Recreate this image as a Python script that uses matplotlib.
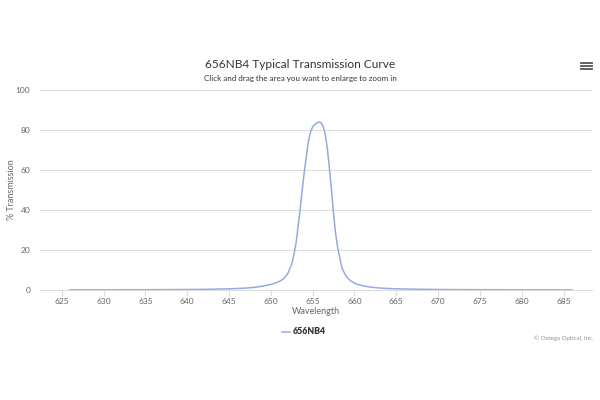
import matplotlib.pyplot as plt
from matplotlib.lines import Line2D

plt.rcParams['font.family'] = ['Lato', 'DejaVu Sans']

# wavelength (nm) and % transmission
wavelength = [626, 628, 630, 632, 635, 638, 640, 642, 643, 644, 645, 646, 647, 648, 649,
              650, 650.5, 651, 651.5, 652, 652.5, 652.75, 653, 653.5, 653.75, 654, 654.25,
              654.5, 654.75, 655, 655.25, 655.5, 655.75, 656, 656.25, 656.5, 656.75, 657,
              657.25, 657.5, 657.75, 658, 658.5, 659, 659.5, 660, 660.5, 661, 662, 663,
              664, 665, 666, 668, 670, 672, 675, 678, 680, 683, 686]
transmission = [0.1, 0.1, 0.1, 0.12, 0.15, 0.2, 0.25, 0.32, 0.4, 0.5, 0.6, 0.75, 0.95, 1.3, 1.9,
                2.8, 3.4, 4.3, 5.5, 8, 13, 17.5, 23, 40, 50, 59, 67,
                74.5, 79, 81.5, 82.8, 83.5, 84, 83.7, 81.8, 78, 71, 61,
                50, 38, 28, 21, 11, 6.8, 4.7, 3.4, 2.6, 2.1, 1.4, 1.0,
                0.75, 0.6, 0.5, 0.35, 0.25, 0.2, 0.15, 0.12, 0.1, 0.09, 0.08]
x_ticks = list(range(625, 690, 5))
y_ticks = [0, 20, 40, 60, 80, 100]

line_color = '#94acdc'
grid_color = '#dcdcdc'
text_color = '#666666'

fig = plt.figure(figsize=(6, 4), dpi=100)
ax = fig.add_axes([40 / 600, 1 - 290 / 400, 552 / 600, 200 / 400])

ax.plot(wavelength, transmission, color=line_color, lw=1.1)

ax.set_xlim(622.4, 688.4)
ax.set_ylim(0, 100)
ax.set_xticks(x_ticks)
ax.set_yticks(y_ticks)
ax.tick_params(axis='x', colors=grid_color, labelcolor=text_color, labelsize=6,
               length=4, width=0.8, pad=1.5)
ax.tick_params(axis='y', length=0, labelcolor=text_color, labelsize=6, pad=7)
ax.grid(axis='y', color=grid_color, lw=0.8)
ax.set_axisbelow(True)
for side in ['top', 'right', 'left']:
    ax.spines[side].set_visible(False)
ax.spines['bottom'].set_color(grid_color)
ax.spines['bottom'].set_linewidth(0.8)

ax.set_xlabel('Wavelength', fontsize=6.5, color=text_color, labelpad=2)
fig.text(12 / 600, 1 - 190 / 400, '% Transmission', rotation=90, ha='center', va='center',
         fontsize=6.5, color=text_color)

# titles
fig.text(0.5, 1 - 65 / 400, '656NB4 Typical Transmission Curve', ha='center', va='center',
         fontsize=8.6, color='#333333')
fig.text(0.5, 1 - 78 / 400, 'Click and drag the area you want to enlarge to zoom in',
         ha='center', va='center', fontsize=5.8, color='#333333')

# legend
fig.lines.append(Line2D([281.5 / 600, 289.5 / 600], [1 - 332 / 400, 1 - 332 / 400],
                        color=line_color, lw=1.1, transform=fig.transFigure))
fig.text(293 / 600, 1 - 332 / 400, '656NB4', ha='left', va='center', fontsize=6.3,
         fontweight='heavy', color='#333333')

# credit
fig.text(593 / 600, 1 - 338 / 400, '© Omega Optical, Inc.', ha='right', va='center',
         fontsize=4.4, color='#909090')

# menu icon
for yy in [63.3, 66.2, 69.1]:
    fig.lines.append(Line2D([581 / 600, 591.5 / 600], [1 - yy / 400, 1 - yy / 400],
                            color='#555555', lw=1.3, transform=fig.transFigure))

fig.savefig('out.png', dpi=100, facecolor='white')
